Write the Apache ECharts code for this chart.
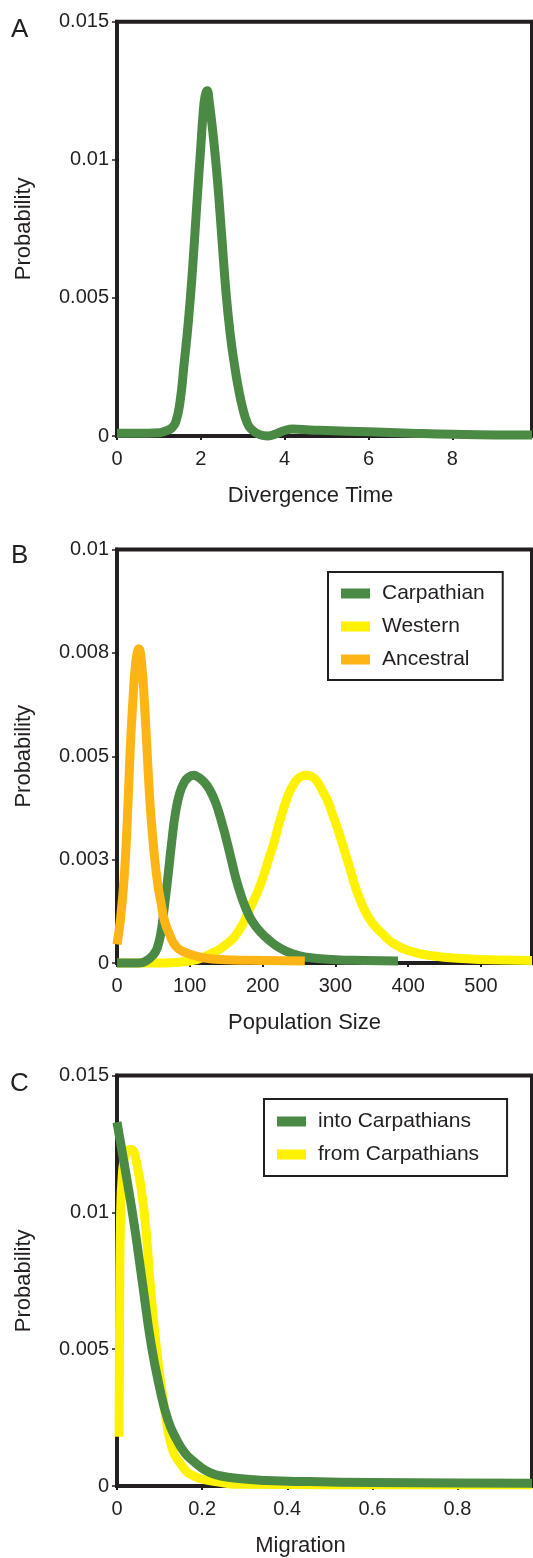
<!DOCTYPE html>
<html>
<head>
<meta charset="utf-8">
<script src="https://cdn.jsdelivr.net/npm/echarts@6/dist/echarts.min.js"></script>
<style>
  html, body { margin: 0; padding: 0; background: #fff; }
  #chart { width: 533px; height: 1558px; }
</style>
</head>
<body>
<div id="chart"></div>
<script>
// panel A - divergence time
const divTime = [0, 0.5, 1.0, 1.1, 1.2, 1.3, 1.4, 1.5, 1.6, 1.7, 1.8, 1.9, 2.0, 2.05, 2.1, 2.15, 2.2, 2.3, 2.4, 2.5, 2.6, 2.7, 2.8, 2.9, 3.0, 3.1, 3.2, 3.4, 3.6, 3.8, 4.0, 4.2, 4.6, 5, 6, 7, 8, 9, 9.9];
const divProb = [0.0001, 0.0001, 0.00012, 0.00015, 0.0002, 0.00028, 0.0005, 0.0012, 0.0026, 0.0041, 0.006, 0.0083, 0.0105, 0.0116, 0.0123, 0.0125, 0.0121, 0.0108, 0.0092, 0.0072, 0.0052, 0.0037, 0.0026, 0.0017, 0.001, 0.0005, 0.00025, 0.00005, 0, 0.00008, 0.0002, 0.00025, 0.00022, 0.0002, 0.00015, 0.0001, 0.00006, 0.00004, 0.00004];

// panel B - population size
const popCarpX = [0, 30, 40, 50, 55, 60, 65, 70, 75, 80, 86, 92, 98, 105, 112, 120, 127, 135, 143, 150, 157, 164, 171, 178, 186, 197, 209, 223, 240, 260, 300, 340, 386];
const popCarpY = [0, 0, 0.00005, 0.0002, 0.00035, 0.0007, 0.00135, 0.0021, 0.0029, 0.0036, 0.0041, 0.00436, 0.00449, 0.00454, 0.00449, 0.00437, 0.0042, 0.0039, 0.00346, 0.003, 0.0025, 0.002, 0.0016, 0.00128, 0.001, 0.00075, 0.00055, 0.00037, 0.00023, 0.00014, 0.00008, 0.00006, 0.00005];
const popWestX = [0, 50, 100, 126, 150, 168, 182, 196, 210, 217, 223, 230, 236, 242, 248, 254, 260, 266, 272, 278, 284, 290, 296, 302, 308, 318, 329, 340, 351, 365, 379, 400, 430, 480, 530, 570];
const popWestY = [0, 0, 0.00005, 0.0002, 0.00045, 0.0008, 0.0013, 0.00185, 0.0026, 0.003, 0.0034, 0.0038, 0.0041, 0.0043, 0.00445, 0.00452, 0.00454, 0.00452, 0.00445, 0.0043, 0.0041, 0.0039, 0.0036, 0.0033, 0.00297, 0.0024, 0.00176, 0.00128, 0.00096, 0.0007, 0.00048, 0.0003, 0.00018, 0.0001, 0.00007, 0.00006];
const popAncX = [0, 5, 10, 14, 18, 22, 26, 30, 34, 38, 42, 46, 51, 56, 60, 65, 72, 81, 92, 103, 120, 150, 200, 258];
const popAncY = [0.00045, 0.0011, 0.0021, 0.0034, 0.0051, 0.0064, 0.0073, 0.0076, 0.0072, 0.0062, 0.0049, 0.0037, 0.00266, 0.0019, 0.0015, 0.00104, 0.0007, 0.0004, 0.00027, 0.0002, 0.00012, 0.00008, 0.00006, 0.00005];
const popTicks = ['0', '0.003', '0.005', '0.008', '0.01'];

// panel C - migration
const migIntoX = [0, 0.02, 0.04, 0.06, 0.08, 0.1, 0.12, 0.14, 0.16, 0.18, 0.2, 0.22, 0.24, 0.28, 0.35, 0.45, 0.6, 0.8, 0.975];
const migIntoY = [0.0133, 0.0115, 0.0096, 0.0074, 0.0052, 0.0036, 0.0024, 0.0017, 0.0012, 0.0009, 0.00065, 0.00048, 0.00038, 0.00028, 0.0002, 0.00016, 0.00013, 0.00011, 0.0001];
const migFromX = [0.005, 0.006, 0.008, 0.013, 0.022, 0.033, 0.045, 0.064, 0.078, 0.093, 0.11, 0.129, 0.15, 0.176, 0.23, 0.3, 0.5, 0.975];
const migFromY = [0.0018, 0.006, 0.0095, 0.0115, 0.0122, 0.0123, 0.0119, 0.01, 0.0074, 0.005, 0.003, 0.0014, 0.0008, 0.0004, 0.00016, 0.00006, 0.00005, 0.00005];

const GREEN = '#4b8a45', YELLOW = '#fff200', ORANGE = '#fdb515', INK = '#231f20';
const FONT = 'Liberation Sans, Arial, Helvetica, sans-serif';

function pairs(xs, ys) {
    return xs.map((x, i) => [x, ys[i]]);
}

const grids = [
    {left: 117, top: 21.7, right: 1, height: 414.3},
    {left: 117, top: 549.5, right: 1, height: 413.5},
    {left: 117, top: 1075.6, right: 1, height: 415.4}
];

function xAxis(idx, max, interval, name, pad) {
    return {
        type: 'value', gridIndex: idx, min: 0, max: max, interval: interval,
        name: name, nameLocation: 'middle', nameGap: 49,
        nameTextStyle: {fontSize: 22, color: INK, fontFamily: FONT, padding: [0, pad, 0, 0]},
        axisLine: {show: true, lineStyle: {color: INK, width: 4}},
        axisTick: {show: true, length: 4, lineStyle: {color: INK, width: 2}},
        axisLabel: {fontSize: 20, color: INK, fontFamily: FONT, margin: 13, showMaxLabel: false},
        splitLine: {show: false}
    };
}

function yAxis(idx, max, interval, fmt) {
    return {
        type: 'value', gridIndex: idx, min: 0, max: max, interval: interval,
        name: 'Probability', nameLocation: 'middle', nameGap: 82,
        nameTextStyle: {fontSize: 22, color: INK, fontFamily: FONT},
        axisLine: {show: true, lineStyle: {color: INK, width: 4}},
        axisTick: {show: true, length: 5, lineStyle: {color: INK, width: 1.5}},
        axisLabel: {fontSize: 20, color: INK, fontFamily: FONT, margin: 8, formatter: fmt},
        splitLine: {show: false}
    };
}

function line(name, idx, color, data) {
    return {
        name: name, type: 'line', xAxisIndex: idx, yAxisIndex: idx,
        data: data, smooth: 0.5, showSymbol: false, clip: false,
        color: color, lineStyle: {color: color, width: 9, join: 'round'}
    };
}

function legend(names, left, top, padding) {
    return {
        data: names, orient: 'vertical', left: left, top: top,
        icon: 'rect', itemWidth: 29, itemHeight: 10, itemGap: 12,
        padding: padding, borderColor: INK, borderWidth: 2,
        textStyle: {fontSize: 21, color: INK, fontFamily: FONT, padding: [0, 0, 0, 7]},
        selectedMode: false
    };
}

function letter(text, left, top) {
    return {text: text, left: left, top: top, padding: 0,
        textStyle: {fontSize: 26, fontWeight: 'normal', color: INK, fontFamily: FONT}};
}

const chart = echarts.init(document.getElementById('chart'));
chart.setOption({
    animation: false,
    backgroundColor: '#fff',
    title: [letter('A', 11, 17), letter('B', 11, 543), letter('C', 10, 1071)],
    grid: grids.map(g => Object.assign({show: true, borderColor: INK, borderWidth: 4, backgroundColor: 'transparent'}, g)),
    xAxis: [
        xAxis(0, 9.9, 2, 'Divergence Time', 28),
        xAxis(1, 570, 100, 'Population Size', 40),
        xAxis(2, 0.975, 0.2, 'Migration', 48)
    ],
    yAxis: [
        yAxis(0, 0.015, 0.005),
        yAxis(1, 0.01, 0.0025, v => popTicks[Math.round(v / 0.0025)]),
        yAxis(2, 0.015, 0.005)
    ],
    legend: [
        legend(['Carpathian', 'Western', 'Ancestral'], 328, 572, [11, 18, 10, 13]),
        legend(['into Carpathians', 'from Carpathians'], 264, 1099, [12, 28, 11, 13])
    ],
    series: [
        line('Divergence', 0, GREEN, pairs(divTime, divProb)),
        line('Western', 1, YELLOW, pairs(popWestX, popWestY)),
        line('Carpathian', 1, GREEN, pairs(popCarpX, popCarpY)),
        line('Ancestral', 1, ORANGE, pairs(popAncX, popAncY)),
        line('from Carpathians', 2, YELLOW, pairs(migFromX, migFromY)),
        line('into Carpathians', 2, GREEN, pairs(migIntoX, migIntoY))
    ]
});
</script>
</body>
</html>
